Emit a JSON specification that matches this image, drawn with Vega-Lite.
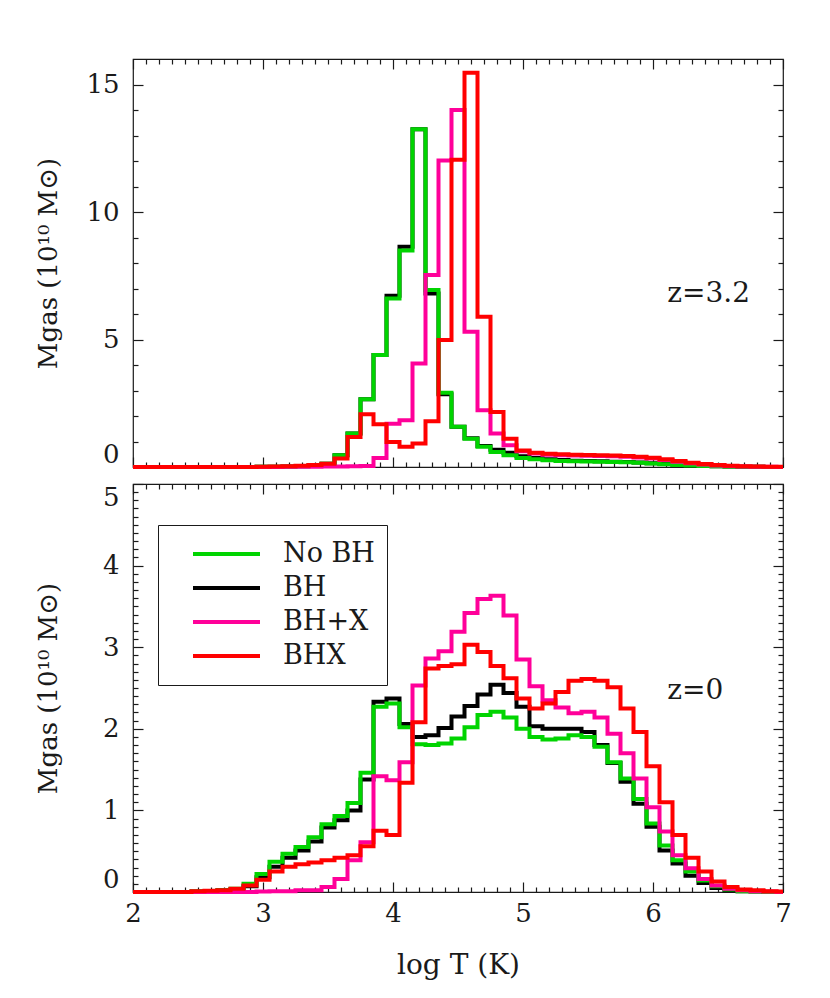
{
  "$schema": "https://vega.github.io/schema/vega-lite/v6.json",
  "background": "white",
  "padding": {"left": 34, "top": 57, "right": 5, "bottom": 5},
  "spacing": 2,
  "config": {
    "view": {"stroke": "#1a1a1a", "strokeWidth": 1.2},
    "axis": {"grid": false, "domain": false, "tickColor": "#1a1a1a", "tickWidth": 1.2, "labelFont": "DejaVu Serif", "labelFontSize": 26, "labelColor": "#1a1a1a", "titleFont": "DejaVu Serif", "titleFontSize": 28, "titleFontWeight": "normal", "titleColor": "#1a1a1a", "labelOverlap": false},
    "legend": {"orient": "none", "legendX": 25, "legendY": 41, "strokeColor": "#1a1a1a", "fillColor": "white", "padding": 12, "symbolType": "stroke", "symbolSize": 4489, "symbolStrokeWidth": 4, "clipHeight": 34, "rowPadding": 0, "labelFont": "DejaVu Serif", "labelFontSize": 27, "labelColor": "#1a1a1a", "labelOffset": 21, "symbolOffset": 21}
  },
  "resolve": {"legend": {"color": "independent"}},
  "datasets": {
    "top": [
      {"T": 2.0, "No BH": 0, "BH": 0, "BH+X": 0, "BHX": 0},
      {"T": 2.1, "No BH": 0, "BH": 0, "BH+X": 0, "BHX": 0},
      {"T": 2.2, "No BH": 0, "BH": 0, "BH+X": 0, "BHX": 0},
      {"T": 2.3, "No BH": 0, "BH": 0, "BH+X": 0, "BHX": 0},
      {"T": 2.4, "No BH": 0, "BH": 0, "BH+X": 0, "BHX": 0},
      {"T": 2.5, "No BH": 0, "BH": 0, "BH+X": 0, "BHX": 0},
      {"T": 2.6, "No BH": 0, "BH": 0, "BH+X": 0, "BHX": 0},
      {"T": 2.7, "No BH": 0, "BH": 0, "BH+X": 0, "BHX": 0},
      {"T": 2.8, "No BH": 0, "BH": 0, "BH+X": 0, "BHX": 0},
      {"T": 2.9, "No BH": 0, "BH": 0, "BH+X": 0, "BHX": 0},
      {"T": 3.0, "No BH": 0.01, "BH": 0.01, "BH+X": 0, "BHX": 0.01},
      {"T": 3.1, "No BH": 0.01, "BH": 0.01, "BH+X": 0, "BHX": 0.02},
      {"T": 3.2, "No BH": 0.02, "BH": 0.02, "BH+X": 0.01, "BHX": 0.03},
      {"T": 3.3, "No BH": 0.03, "BH": 0.03, "BH+X": 0.01, "BHX": 0.05},
      {"T": 3.4, "No BH": 0.06, "BH": 0.06, "BH+X": 0.01, "BHX": 0.08},
      {"T": 3.5, "No BH": 0.13, "BH": 0.13, "BH+X": 0.02, "BHX": 0.13},
      {"T": 3.6, "No BH": 0.46, "BH": 0.46, "BH+X": 0.02, "BHX": 0.33},
      {"T": 3.7, "No BH": 1.31, "BH": 1.31, "BH+X": 0.03, "BHX": 1.18},
      {"T": 3.8, "No BH": 2.66, "BH": 2.66, "BH+X": 0.04, "BHX": 2.07},
      {"T": 3.9, "No BH": 4.39, "BH": 4.39, "BH+X": 0.35, "BHX": 1.68},
      {"T": 4.0, "No BH": 6.61, "BH": 6.72, "BH+X": 1.70, "BHX": 0.98},
      {"T": 4.1, "No BH": 8.49, "BH": 8.64, "BH+X": 1.83, "BHX": 0.79},
      {"T": 4.2, "No BH": 13.25, "BH": 13.25, "BH+X": 4.06, "BHX": 0.92},
      {"T": 4.3, "No BH": 6.94, "BH": 6.80, "BH+X": 7.53, "BHX": 1.79},
      {"T": 4.4, "No BH": 2.91, "BH": 2.85, "BH+X": 12.02, "BHX": 4.98},
      {"T": 4.5, "No BH": 1.58, "BH": 1.58, "BH+X": 14.0, "BHX": 12.05},
      {"T": 4.6, "No BH": 1.11, "BH": 1.13, "BH+X": 5.30, "BHX": 15.46},
      {"T": 4.7, "No BH": 0.79, "BH": 0.82, "BH+X": 2.23, "BHX": 5.89},
      {"T": 4.8, "No BH": 0.59, "BH": 0.68, "BH+X": 1.31, "BHX": 2.16},
      {"T": 4.9, "No BH": 0.46, "BH": 0.56, "BH+X": 0.85, "BHX": 1.11},
      {"T": 5.0, "No BH": 0.35, "BH": 0.42, "BH+X": 0.62, "BHX": 0.65},
      {"T": 5.1, "No BH": 0.30, "BH": 0.35, "BH+X": 0.53, "BHX": 0.56},
      {"T": 5.2, "No BH": 0.26, "BH": 0.30, "BH+X": 0.48, "BHX": 0.52},
      {"T": 5.3, "No BH": 0.24, "BH": 0.27, "BH+X": 0.46, "BHX": 0.50},
      {"T": 5.4, "No BH": 0.23, "BH": 0.25, "BH+X": 0.45, "BHX": 0.48},
      {"T": 5.5, "No BH": 0.22, "BH": 0.24, "BH+X": 0.44, "BHX": 0.47},
      {"T": 5.6, "No BH": 0.21, "BH": 0.23, "BH+X": 0.43, "BHX": 0.46},
      {"T": 5.7, "No BH": 0.20, "BH": 0.21, "BH+X": 0.42, "BHX": 0.45},
      {"T": 5.8, "No BH": 0.19, "BH": 0.20, "BH+X": 0.40, "BHX": 0.43},
      {"T": 5.9, "No BH": 0.17, "BH": 0.18, "BH+X": 0.37, "BHX": 0.40},
      {"T": 6.0, "No BH": 0.14, "BH": 0.15, "BH+X": 0.33, "BHX": 0.36},
      {"T": 6.1, "No BH": 0.11, "BH": 0.12, "BH+X": 0.27, "BHX": 0.30},
      {"T": 6.2, "No BH": 0.08, "BH": 0.09, "BH+X": 0.21, "BHX": 0.24},
      {"T": 6.3, "No BH": 0.06, "BH": 0.06, "BH+X": 0.15, "BHX": 0.17},
      {"T": 6.4, "No BH": 0.04, "BH": 0.04, "BH+X": 0.10, "BHX": 0.12},
      {"T": 6.5, "No BH": 0.03, "BH": 0.03, "BH+X": 0.06, "BHX": 0.08},
      {"T": 6.6, "No BH": 0.02, "BH": 0.02, "BH+X": 0.04, "BHX": 0.05},
      {"T": 6.7, "No BH": 0.01, "BH": 0.01, "BH+X": 0.02, "BHX": 0.03},
      {"T": 6.8, "No BH": 0.01, "BH": 0.01, "BH+X": 0.01, "BHX": 0.02},
      {"T": 6.9, "No BH": 0, "BH": 0, "BH+X": 0.01, "BHX": 0.01},
      {"T": 7.0, "No BH": 0, "BH": 0, "BH+X": 0, "BHX": 0.01}
    ],
    "bot": [
      {"T": 2.0, "No BH": 0, "BH": 0, "BH+X": 0, "BHX": 0},
      {"T": 2.1, "No BH": 0, "BH": 0, "BH+X": 0, "BHX": 0},
      {"T": 2.2, "No BH": 0, "BH": 0, "BH+X": 0, "BHX": 0},
      {"T": 2.3, "No BH": 0, "BH": 0, "BH+X": 0, "BHX": 0},
      {"T": 2.4, "No BH": 0, "BH": 0, "BH+X": 0, "BHX": 0},
      {"T": 2.5, "No BH": 0.005, "BH": 0.005, "BH+X": 0, "BHX": 0.01},
      {"T": 2.6, "No BH": 0.01, "BH": 0.01, "BH+X": 0, "BHX": 0.015},
      {"T": 2.7, "No BH": 0.02, "BH": 0.02, "BH+X": 0, "BHX": 0.02},
      {"T": 2.8, "No BH": 0.04, "BH": 0.03, "BH+X": 0, "BHX": 0.04},
      {"T": 2.9, "No BH": 0.10, "BH": 0.07, "BH+X": 0, "BHX": 0.08},
      {"T": 3.0, "No BH": 0.22, "BH": 0.18, "BH+X": 0.005, "BHX": 0.15},
      {"T": 3.1, "No BH": 0.37, "BH": 0.31, "BH+X": 0.01, "BHX": 0.25},
      {"T": 3.2, "No BH": 0.47, "BH": 0.42, "BH+X": 0.01, "BHX": 0.31},
      {"T": 3.3, "No BH": 0.55, "BH": 0.51, "BH+X": 0.02, "BHX": 0.34},
      {"T": 3.4, "No BH": 0.67, "BH": 0.62, "BH+X": 0.02, "BHX": 0.36},
      {"T": 3.5, "No BH": 0.83, "BH": 0.79, "BH+X": 0.06, "BHX": 0.39},
      {"T": 3.6, "No BH": 0.93, "BH": 0.88, "BH+X": 0.16, "BHX": 0.42},
      {"T": 3.7, "No BH": 1.09, "BH": 1.00, "BH+X": 0.39, "BHX": 0.45},
      {"T": 3.8, "No BH": 1.46, "BH": 1.38, "BH+X": 0.61, "BHX": 0.56},
      {"T": 3.9, "No BH": 2.27, "BH": 2.33, "BH+X": 1.42, "BHX": 0.75},
      {"T": 4.0, "No BH": 2.31, "BH": 2.37, "BH+X": 1.37, "BHX": 0.70},
      {"T": 4.1, "No BH": 2.02, "BH": 2.06, "BH+X": 1.59, "BHX": 1.34},
      {"T": 4.2, "No BH": 1.81, "BH": 1.90, "BH+X": 2.53, "BHX": 2.08},
      {"T": 4.3, "No BH": 1.80, "BH": 1.92, "BH+X": 2.86, "BHX": 2.74},
      {"T": 4.4, "No BH": 1.82, "BH": 2.01, "BH+X": 2.95, "BHX": 2.77},
      {"T": 4.5, "No BH": 1.88, "BH": 2.15, "BH+X": 3.19, "BHX": 2.79},
      {"T": 4.6, "No BH": 2.02, "BH": 2.28, "BH+X": 3.42, "BHX": 3.03},
      {"T": 4.7, "No BH": 2.17, "BH": 2.42, "BH+X": 3.59, "BHX": 2.94},
      {"T": 4.8, "No BH": 2.21, "BH": 2.54, "BH+X": 3.63, "BHX": 2.77},
      {"T": 4.9, "No BH": 2.14, "BH": 2.44, "BH+X": 3.39, "BHX": 2.62},
      {"T": 5.0, "No BH": 2.00, "BH": 2.27, "BH+X": 2.85, "BHX": 2.37},
      {"T": 5.1, "No BH": 1.90, "BH": 2.03, "BH+X": 2.52, "BHX": 2.25},
      {"T": 5.2, "No BH": 1.87, "BH": 2.00, "BH+X": 2.35, "BHX": 2.31},
      {"T": 5.3, "No BH": 1.88, "BH": 2.00, "BH+X": 2.26, "BHX": 2.45},
      {"T": 5.4, "No BH": 1.92, "BH": 2.00, "BH+X": 2.19, "BHX": 2.59},
      {"T": 5.5, "No BH": 1.90, "BH": 1.96, "BH+X": 2.21, "BHX": 2.61},
      {"T": 5.6, "No BH": 1.78, "BH": 1.80, "BH+X": 2.14, "BHX": 2.59},
      {"T": 5.7, "No BH": 1.59, "BH": 1.58, "BH+X": 1.94, "BHX": 2.51},
      {"T": 5.8, "No BH": 1.39, "BH": 1.35, "BH+X": 1.70, "BHX": 2.25},
      {"T": 5.9, "No BH": 1.14, "BH": 1.08, "BH+X": 1.39, "BHX": 1.96},
      {"T": 6.0, "No BH": 0.84, "BH": 0.80, "BH+X": 1.04, "BHX": 1.54},
      {"T": 6.1, "No BH": 0.57, "BH": 0.51, "BH+X": 0.74, "BHX": 1.10},
      {"T": 6.2, "No BH": 0.39, "BH": 0.35, "BH+X": 0.45, "BHX": 0.70},
      {"T": 6.3, "No BH": 0.25, "BH": 0.20, "BH+X": 0.29, "BHX": 0.42},
      {"T": 6.4, "No BH": 0.14, "BH": 0.11, "BH+X": 0.16, "BHX": 0.25},
      {"T": 6.5, "No BH": 0.07, "BH": 0.05, "BH+X": 0.08, "BHX": 0.13},
      {"T": 6.6, "No BH": 0.03, "BH": 0.02, "BH+X": 0.04, "BHX": 0.06},
      {"T": 6.7, "No BH": 0.01, "BH": 0.01, "BH+X": 0.02, "BHX": 0.03},
      {"T": 6.8, "No BH": 0.005, "BH": 0.005, "BH+X": 0.01, "BHX": 0.02},
      {"T": 6.9, "No BH": 0, "BH": 0, "BH+X": 0.005, "BHX": 0.01},
      {"T": 7.0, "No BH": 0, "BH": 0, "BH+X": 0, "BHX": 0.005}
    ]
  },
  "vconcat": [
    {
      "width": 650,
      "height": 408,
      "data": {"name": "top"},
      "transform": [{"fold": ["BH", "No BH", "BH+X", "BHX"], "as": ["model", "mass"]}],
      "resolve": {"axis": {"x": "independent", "y": "independent"}},
      "layer": [
        {
          "mark": {"type": "line", "interpolate": "step", "strokeWidth": 4, "strokeJoin": "miter"},
          "encoding": {
            "x": {"field": "T", "type": "quantitative", "scale": {"domain": [2, 7], "nice": false},
              "axis": {"orient": "bottom", "labels": false, "title": null,
                "values": [2,2.1,2.2,2.3,2.4,2.5,2.6,2.7,2.8,2.9,3,3.1,3.2,3.3,3.4,3.5,3.6,3.7,3.8,3.9,4,4.1,4.2,4.3,4.4,4.5,4.6,4.7,4.8,4.9,5,5.1,5.2,5.3,5.4,5.5,5.6,5.7,5.8,5.9,6,6.1,6.2,6.3,6.4,6.5,6.6,6.7,6.8,6.9,7],
                "tickSize": {"condition": {"test": "abs(datum.value - round(datum.value)) < 0.001", "value": -10}, "value": -5}}},
            "y": {"field": "mass", "type": "quantitative", "scale": {"domain": [0, 16], "nice": false},
              "axis": {"orient": "left", "title": "Mgas  (10¹⁰ M⊙)", "titleX": -85, "titleY": 204, "titleAngle": -90, "titleBaseline": "middle", "titleAlign": "center", "titleFontSize": 26,
                "values": [0,1,2,3,4,5,6,7,8,9,10,11,12,13,14,15],
                "labelExpr": "datum.value % 5 == 0 ? format(datum.value, 'd') : ''", "labelFlush": true, "labelPadding": 24,
                "tickSize": {"condition": {"test": "datum.value % 5 == 0", "value": -10}, "value": -5}}},
            "color": {"field": "model", "type": "nominal", "scale": {"domain": ["No BH", "BH", "BH+X", "BHX"], "range": ["#00d400", "#000000", "#ff0099", "#ff0000"]}, "legend": null}
          }
        },
        {
          "data": {"values": [{"T": 6.11, "mass": 6.78, "label": "z=3.2"}]},
          "mark": {"type": "text", "align": "left", "baseline": "middle", "font": "DejaVu Serif", "fontSize": 28, "color": "#1a1a1a"},
          "encoding": {
            "x": {"field": "T", "type": "quantitative", "scale": {"domain": [2, 7], "nice": false},
              "axis": {"orient": "top", "labels": false, "title": null,
                "values": [2,2.1,2.2,2.3,2.4,2.5,2.6,2.7,2.8,2.9,3,3.1,3.2,3.3,3.4,3.5,3.6,3.7,3.8,3.9,4,4.1,4.2,4.3,4.4,4.5,4.6,4.7,4.8,4.9,5,5.1,5.2,5.3,5.4,5.5,5.6,5.7,5.8,5.9,6,6.1,6.2,6.3,6.4,6.5,6.6,6.7,6.8,6.9,7],
                "tickSize": {"condition": {"test": "abs(datum.value - round(datum.value)) < 0.001", "value": -10}, "value": -5}}},
            "y": {"field": "mass", "type": "quantitative", "scale": {"domain": [0, 16], "nice": false},
              "axis": {"orient": "right", "labels": false, "title": null,
                "values": [0,1,2,3,4,5,6,7,8,9,10,11,12,13,14,15],
                "tickSize": {"condition": {"test": "datum.value % 5 == 0", "value": -10}, "value": -5}}},
            "text": {"field": "label", "type": "nominal"}
          }
        }
      ]
    },
    {
      "width": 650,
      "height": 408,
      "data": {"name": "bot"},
      "transform": [{"fold": ["BH", "No BH", "BH+X", "BHX"], "as": ["model", "mass"]}],
      "resolve": {"axis": {"x": "independent", "y": "independent"}},
      "layer": [
        {
          "mark": {"type": "line", "interpolate": "step", "strokeWidth": 4, "strokeJoin": "miter"},
          "encoding": {
            "x": {"field": "T", "type": "quantitative", "scale": {"domain": [2, 7], "nice": false},
              "axis": {"orient": "bottom", "title": "log  T  (K)", "titlePadding": 20, "labelFlush": false, "labelPadding": 18,
                "labelExpr": "abs(datum.value - round(datum.value)) < 0.001 ? format(datum.value, 'd') : ''",
                "values": [2,2.1,2.2,2.3,2.4,2.5,2.6,2.7,2.8,2.9,3,3.1,3.2,3.3,3.4,3.5,3.6,3.7,3.8,3.9,4,4.1,4.2,4.3,4.4,4.5,4.6,4.7,4.8,4.9,5,5.1,5.2,5.3,5.4,5.5,5.6,5.7,5.8,5.9,6,6.1,6.2,6.3,6.4,6.5,6.6,6.7,6.8,6.9,7],
                "tickSize": {"condition": {"test": "abs(datum.value - round(datum.value)) < 0.001", "value": -10}, "value": -5}}},
            "y": {"field": "mass", "type": "quantitative", "scale": {"domain": [0, 5], "nice": false},
              "axis": {"orient": "left", "title": "Mgas  (10¹⁰ M⊙)", "titleX": -85, "titleY": 204, "titleAngle": -90, "titleBaseline": "middle", "titleAlign": "center", "titleFontSize": 26,
                "values": [0,0.1,0.2,0.3,0.4,0.5,0.6,0.7,0.8,0.9,1,1.1,1.2,1.3,1.4,1.5,1.6,1.7,1.8,1.9,2,2.1,2.2,2.3,2.4,2.5,2.6,2.7,2.8,2.9,3,3.1,3.2,3.3,3.4,3.5,3.6,3.7,3.8,3.9,4,4.1,4.2,4.3,4.4,4.5,4.6,4.7,4.8,4.9,5],
                "labelExpr": "abs(datum.value - round(datum.value)) < 0.001 ? format(datum.value, 'd') : ''", "labelFlush": true, "labelPadding": 24,
                "tickSize": {"condition": {"test": "abs(datum.value - round(datum.value)) < 0.001", "value": -10}, "value": -5}}},
            "color": {"field": "model", "type": "nominal", "scale": {"domain": ["No BH", "BH", "BH+X", "BHX"], "range": ["#00d400", "#000000", "#ff0099", "#ff0000"]}, "legend": {"title": null}}
          }
        },
        {
          "data": {"values": [{"T": 6.11, "mass": 2.46, "label": "z=0"}]},
          "mark": {"type": "text", "align": "left", "baseline": "middle", "font": "DejaVu Serif", "fontSize": 28, "color": "#1a1a1a"},
          "encoding": {
            "x": {"field": "T", "type": "quantitative", "scale": {"domain": [2, 7], "nice": false},
              "axis": {"orient": "top", "labels": false, "title": null,
                "values": [2,2.1,2.2,2.3,2.4,2.5,2.6,2.7,2.8,2.9,3,3.1,3.2,3.3,3.4,3.5,3.6,3.7,3.8,3.9,4,4.1,4.2,4.3,4.4,4.5,4.6,4.7,4.8,4.9,5,5.1,5.2,5.3,5.4,5.5,5.6,5.7,5.8,5.9,6,6.1,6.2,6.3,6.4,6.5,6.6,6.7,6.8,6.9,7],
                "tickSize": {"condition": {"test": "abs(datum.value - round(datum.value)) < 0.001", "value": -10}, "value": -5}}},
            "y": {"field": "mass", "type": "quantitative", "scale": {"domain": [0, 5], "nice": false},
              "axis": {"orient": "right", "labels": false, "title": null,
                "values": [0,0.1,0.2,0.3,0.4,0.5,0.6,0.7,0.8,0.9,1,1.1,1.2,1.3,1.4,1.5,1.6,1.7,1.8,1.9,2,2.1,2.2,2.3,2.4,2.5,2.6,2.7,2.8,2.9,3,3.1,3.2,3.3,3.4,3.5,3.6,3.7,3.8,3.9,4,4.1,4.2,4.3,4.4,4.5,4.6,4.7,4.8,4.9,5],
                "tickSize": {"condition": {"test": "abs(datum.value - round(datum.value)) < 0.001", "value": -10}, "value": -5}}},
            "text": {"field": "label", "type": "nominal"}
          }
        }
      ]
    }
  ]
}
